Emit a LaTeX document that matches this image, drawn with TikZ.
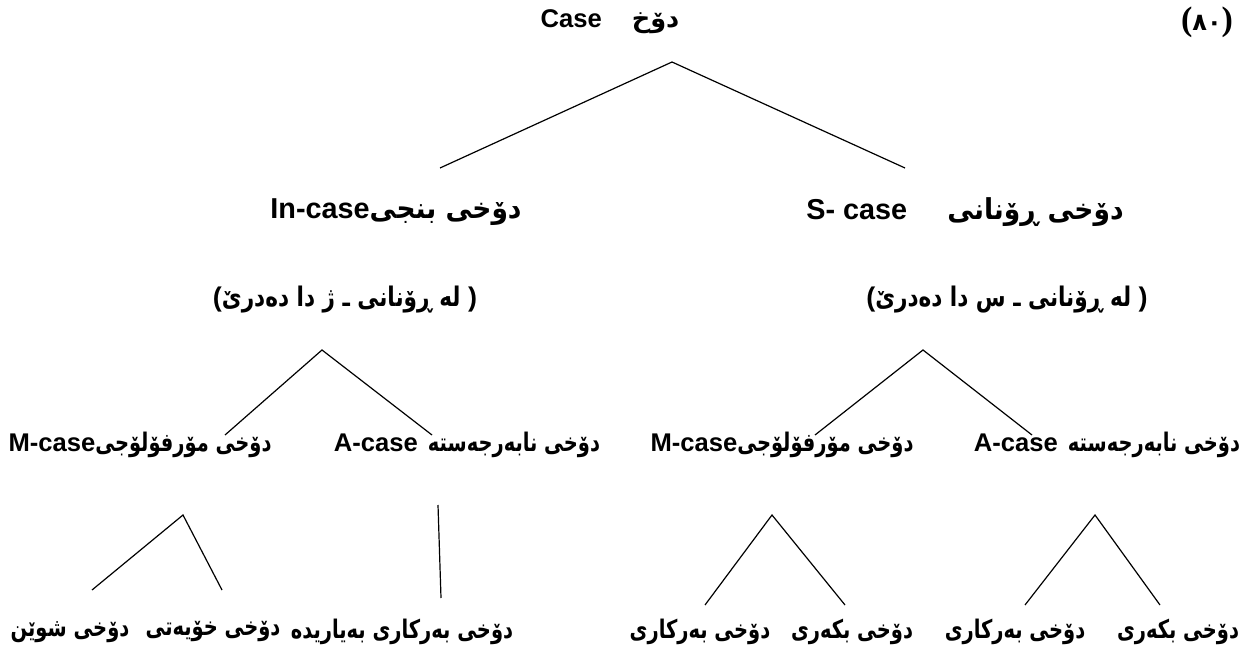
\documentclass[tikz,border=0pt]{standalone}
\usepackage{fontspec}
\setmainfont{Liberation Sans}
\newfontfamily\arA[Script=Arabic,FakeStretch=0.92]{DejaVu Sans}
\newfontfamily\arB[Script=Arabic,FakeStretch=0.76]{DejaVu Sans}
\newfontfamily\arD[Script=Arabic,FakeStretch=0.8]{DejaVu Sans}
\newfontfamily\arE[Script=Arabic]{DejaVu Sans}
\newfontfamily\serf{Liberation Serif}
\TeXXeTstate=1
\tikzset{
  lbl/.style={inner sep=0pt, font=\fontsize{12.8pt}{16pt}\selectfont\bfseries, anchor=center},
  lbltwo/.style={lbl, font=\fontsize{14.4pt}{17pt}\selectfont\bfseries},
  lblp/.style={lbl, font=\fontsize{13.5pt}{16pt}\selectfont\bfseries},
  br/.style={line width=0.6pt, draw=black}
}
\newcommand{\RL}[2]{{#1\beginR #2\endR}}
\begin{document}
\begin{tikzpicture}[x=0.5pt,y=-0.5pt]
\useasboundingbox (0,0) rectangle (1248,652);
% title
\node[lbl] (root) at (610,22) {Case\hspace{15pt}\RL{\arE}{دۆخ}};
\node[lbl] (num) at (1207,22) {{\serf\fontsize{17pt}{16pt}\selectfont(}{\arE\fontsize{12pt}{16pt}\selectfont ٨٠}{\serf\fontsize{17pt}{16pt}\selectfont)}};
\coordinate (rootap) at (672,62);
% level 2
\node[lbltwo] (inc) at (396,212) {In-case\RL{\arA}{دۆخی بنجی}};
\node[lbltwo] (sc) at (965,212) {S- case\hspace{20pt}\RL{\arA}{دۆخی ڕۆنانی}};
\node[lblp] (pinc) at (345,300) {(\RL{\arD}{له ڕۆنانی ـ ژ دا دەدرێ}\ )};
\node[lblp] (psc) at (1007,300) {(\RL{\arD}{له ڕۆنانی ـ س دا دەدرێ}\ )};
\coordinate (l2a) at (440,168);
\coordinate (l2b) at (905,168);
\draw[br] (l2a) -- (rootap) -- (l2b);
% level 3
\node[lbl] (lm) at (140,445) {M-case\RL{\arB}{دۆخی مۆرفۆلۆجی}};
\node[lbl] (la) at (467,445) {A-case\hspace{5pt}\RL{\arB}{دۆخی نابەرجەستە}};
\node[lbl] (rm) at (782,445) {M-case\RL{\arB}{دۆخی مۆرفۆلۆجی}};
\node[lbl] (ra) at (1107,445) {A-case\hspace{5pt}\RL{\arB}{دۆخی نابەرجەستە}};
\coordinate (lap) at (322,350);
\coordinate (lap1) at (225,435);
\coordinate (lap2) at (432,435);
\draw[br] (lap1) -- (lap) -- (lap2);
\coordinate (rap) at (923,350);
\coordinate (rap1) at (815,435);
\coordinate (rap2) at (1032,435);
\draw[br] (rap1) -- (rap) -- (rap2);
% level 4
\node[lbl] (b1) at (70,632) {\RL{\arB}{دۆخی شوێن}};
\node[lbl] (b2) at (213,632) {\RL{\arB}{دۆخی خۆیەتی}};
\node[lbl] (b3) at (402,632) {\RL{\arB}{دۆخی بەرکاری بەیاریدە}};
\node[lbl] (b4) at (700,632) {\RL{\arB}{دۆخی بەرکاری}};
\node[lbl] (b5) at (852,632) {\RL{\arB}{دۆخی بکەری}};
\node[lbl] (b6) at (1015,632) {\RL{\arB}{دۆخی بەرکاری}};
\node[lbl] (b7) at (1178,632) {\RL{\arB}{دۆخی بکەری}};
\coordinate (lmap) at (183,515);
\coordinate (lm1) at (92,590);
\coordinate (lm2) at (222,590);
\draw[br] (lm1) -- (lmap) -- (lm2);
\coordinate (lav1) at (438,505);
\coordinate (lav2) at (441,598);
\draw[br] (lav1) -- (lav2);
\coordinate (rmap) at (772,515);
\coordinate (rm1) at (705,605);
\coordinate (rm2) at (845,605);
\draw[br] (rm1) -- (rmap) -- (rm2);
\coordinate (raap) at (1095,515);
\coordinate (ra1) at (1025,605);
\coordinate (ra2) at (1160,605);
\draw[br] (ra1) -- (raap) -- (ra2);
\end{tikzpicture}
\end{document}
